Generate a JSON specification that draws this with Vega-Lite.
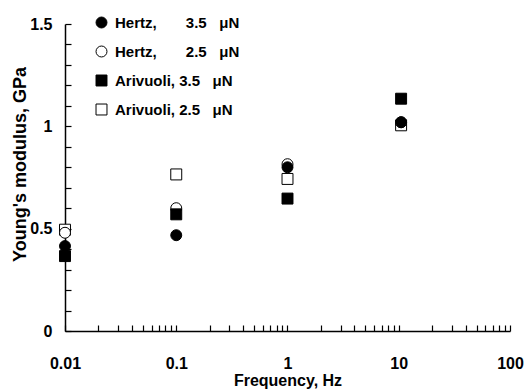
{
  "$schema": "https://vega.github.io/schema/vega-lite/v6.json",
  "autosize": {"type": "none"},
  "width": 445,
  "height": 307,
  "padding": {"left": 65, "top": 24, "right": 18, "bottom": 60},
  "background": "white",
  "config": {
    "view": {"stroke": null},
    "font": "Liberation Sans",
    "axis": {"domainColor": "black", "tickColor": "black", "labelColor": "black", "titleColor": "black", "grid": false, "domainWidth": 1.5, "tickWidth": 1.2}
  },
  "data": {
    "values": [
      {"f": 0.01, "series": "A2.5", "E": 0.495},
      {"f": 0.1, "series": "A2.5", "E": 0.765},
      {"f": 1, "series": "A2.5", "E": 0.743},
      {"f": 10.5, "series": "A2.5", "E": 1.005},
      {"f": 0.01, "series": "H2.5", "E": 0.48},
      {"f": 0.1, "series": "H2.5", "E": 0.6},
      {"f": 1, "series": "H2.5", "E": 0.815},
      {"f": 10.5, "series": "H2.5", "E": 1.02},
      {"f": 0.01, "series": "A3.5", "E": 0.366},
      {"f": 0.1, "series": "A3.5", "E": 0.57},
      {"f": 1, "series": "A3.5", "E": 0.647},
      {"f": 10.5, "series": "A3.5", "E": 1.135},
      {"f": 0.01, "series": "H3.5", "E": 0.415},
      {"f": 0.1, "series": "H3.5", "E": 0.468},
      {"f": 1, "series": "H3.5", "E": 0.8},
      {"f": 10.5, "series": "H3.5", "E": 1.02}
    ]
  },
  "resolve": {"axis": {"x": "independent", "y": "independent"}},
  "layer": [
    {
      "mark": {"type": "point", "opacity": 0},
      "encoding": {
        "x": {
          "field": "f", "type": "quantitative",
          "scale": {"type": "log", "domain": [0.01, 100], "nice": false},
          "axis": {
            "orient": "bottom",
            "title": "Frequency, Hz",
            "values": [0.01, 0.1, 1, 10, 100],
            "format": "~g",
            "ticks": false,
            "labelPadding": 24,
            "labelFontSize": 16,
            "labelFontWeight": "bold",
            "labelFlush": false,
            "labelOverlap": false,
            "titleFontSize": 16,
            "titleFontWeight": "bold",
            "titlePadding": 1
          }
        },
        "y": {
          "field": "E", "type": "quantitative",
          "scale": {"domain": [0, 1.5], "nice": false},
          "axis": {
            "orient": "left",
            "title": "Young's modulus, GPa",
            "values": [0, 0.5, 1, 1.5],
            "format": "~g",
            "ticks": false,
            "labelPadding": 13,
            "labelFontSize": 16,
            "labelFontWeight": "bold",
            "labelFlush": false,
            "labelOverlap": false,
            "titleFontSize": 18,
            "titleFontWeight": "bold",
            "titlePadding": 0,
            "titleY": 140
          }
        }
      }
    },
    {
      "mark": {"type": "point", "filled": true, "stroke": "black", "strokeWidth": 1, "size": 120, "opacity": 1},
      "encoding": {
        "x": {
          "field": "f", "type": "quantitative",
          "scale": {"type": "log", "domain": [0.01, 100], "nice": false},
          "axis": {
            "orient": "bottom",
            "offset": -6,
            "domain": false,
            "labels": false,
            "title": null,
            "tickSize": 6,
            "values": [0.01,0.02,0.03,0.04,0.05,0.06,0.07,0.08,0.09,0.1,0.2,0.3,0.4,0.5,0.6,0.7,0.8,0.9,1,2,3,4,5,6,7,8,9,10,20,30,40,50,60,70,80,90,100]
          }
        },
        "y": {
          "field": "E", "type": "quantitative",
          "scale": {"domain": [0, 1.5], "nice": false},
          "axis": {
            "orient": "left",
            "offset": -6,
            "domain": false,
            "labels": false,
            "title": null,
            "tickSize": 6,
            "values": [0,0.1,0.2,0.3,0.4,0.5,0.6,0.7,0.8,0.9,1,1.1,1.2,1.3,1.4,1.5]
          }
        },
        "shape": {
          "field": "series", "type": "nominal",
          "scale": {"domain": ["H3.5", "H2.5", "A3.5", "A2.5"], "range": ["circle", "circle", "square", "square"]},
          "legend": null
        },
        "color": {
          "field": "series", "type": "nominal",
          "scale": {"domain": ["H3.5", "H2.5", "A3.5", "A2.5"], "range": ["black", "white", "black", "white"]},
          "legend": {
            "title": null,
            "orient": "none",
            "legendX": 29,
            "legendY": -9,
            "symbolType": "circle",
            "symbolSize": 120,
            "symbolStrokeColor": "black",
            "symbolStrokeWidth": 1,
            "labelFontSize": 15,
            "labelFontWeight": "bold",
            "labelColor": "black",
            "labelOffset": 6,
            "rowPadding": 13,
            "padding": 0,
            "labelExpr": "datum.value == 'H3.5' ? 'Hertz,\u00a0\u00a0\u00a0\u00a0\u00a0\u00a0 3.5\u00a0\u00a0 μN' : datum.value == 'H2.5' ? 'Hertz,\u00a0\u00a0\u00a0\u00a0\u00a0\u00a0 2.5\u00a0\u00a0 μN' : datum.value == 'A3.5' ? 'Arivuoli, 3.5\u00a0\u00a0 μN' : 'Arivuoli, 2.5\u00a0\u00a0 μN'"
          }
        }
      }
    }
  ]
}
